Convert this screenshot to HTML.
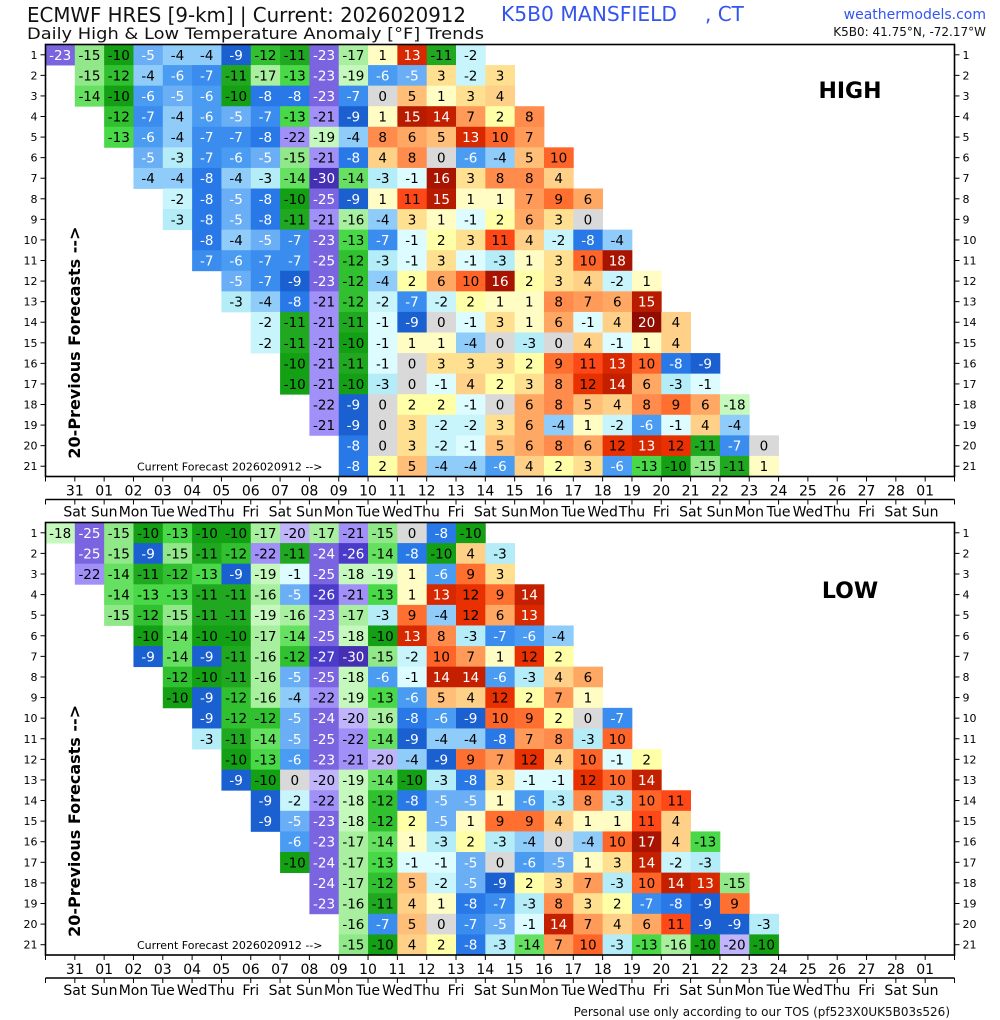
<!DOCTYPE html>
<html><head><meta charset="utf-8">
<style>
html,body{margin:0;padding:0;background:#fff;}
svg{display:block;font-family:"DejaVu Sans","Liberation Sans",sans-serif;}
</style></head>
<body>
<svg id="chart" width="1000" height="1020" viewBox="0 0 1000 1020" xmlns="http://www.w3.org/2000/svg">
<text x="27" y="22" font-size="20" fill="#111" textLength="439" lengthAdjust="spacingAndGlyphs">ECMWF HRES [9-km] | Current: 2026020912</text>
<text x="27" y="39" font-size="16" fill="#111" textLength="457" lengthAdjust="spacingAndGlyphs">Daily High &amp; Low Temperature Anomaly [°F] Trends</text>
<text x="501" y="21" font-size="20" fill="#3355ee" textLength="176" lengthAdjust="spacingAndGlyphs">K5B0 MANSFIELD</text>
<text x="705" y="21" font-size="20" fill="#3355ee">, CT</text>
<text x="986" y="19" font-size="14" fill="#3355ee" text-anchor="end">weathermodels.com</text>
<text x="986" y="36" font-size="12" fill="#111" text-anchor="end">K5B0: 41.75°N, -72.17°W</text>
<text x="950" y="1016" font-size="12" fill="#111" text-anchor="end">Personal use only according to our TOS (pf523X0UK5B03s526)</text>
<g id="panels"></g>
</svg>
<script>
const highStarts = [0,1,1,2,2,3,3,4,4,5,5,6,6,7,7,8,8,9,9,10,10];
const highValues = [
[-23,-15,-10,-5,-4,-4,-9,-12,-11,-23,-17,1,13,-11,-2],
[-15,-12,-4,-6,-7,-11,-17,-13,-23,-19,-6,-5,3,-2,3],
[-14,-10,-6,-5,-6,-10,-8,-8,-23,-7,0,5,1,3,4],
[-12,-7,-4,-6,-5,-7,-13,-21,-9,1,15,14,7,2,8],
[-13,-6,-4,-7,-7,-8,-22,-19,-4,8,6,5,13,10,7],
[-5,-3,-7,-6,-5,-15,-21,-8,4,8,0,-6,-4,5,10],
[-4,-4,-8,-4,-3,-14,-30,-14,-3,-1,16,3,8,8,4],
[-2,-8,-5,-8,-10,-25,-9,1,11,15,1,1,7,9,6],
[-3,-8,-5,-8,-11,-21,-16,-4,3,1,-1,2,6,3,0],
[-8,-4,-5,-7,-23,-13,-7,-1,2,3,11,4,-2,-8,-4],
[-7,-6,-7,-7,-25,-12,-3,-1,3,-1,-3,1,3,10,18],
[-5,-7,-9,-23,-12,-4,2,6,10,16,2,3,4,-2,1],
[-3,-4,-8,-21,-12,-2,-7,-2,2,1,1,8,7,6,15],
[-2,-11,-21,-11,-1,-9,0,-1,3,1,6,-1,4,20,4],
[-2,-11,-21,-10,-1,1,1,-4,0,-3,0,4,-1,1,4],
[-10,-21,-11,-1,0,3,3,3,2,9,11,13,10,-8,-9],
[-10,-21,-10,-3,0,-1,4,2,3,8,12,14,6,-3,-1],
[-22,-9,0,2,2,-1,0,6,8,5,4,8,9,6,-18],
[-21,-9,0,3,-2,-2,3,6,-4,1,-2,-6,-1,4,-4],
[-8,0,3,-2,-1,5,6,8,6,12,13,12,-11,-7,0],
[-8,2,5,-4,-4,-6,4,2,3,-6,-13,-10,-15,-11,1]
];
const lowStarts = [0,1,1,2,2,3,3,4,4,5,5,6,6,7,7,8,8,9,9,10,10];
const lowValues = [
[-18,-25,-15,-10,-13,-10,-10,-17,-20,-17,-21,-15,0,-8,-10],
[-25,-15,-9,-15,-11,-12,-22,-11,-24,-26,-14,-8,-10,4,-3],
[-22,-14,-11,-12,-13,-9,-19,-1,-25,-18,-19,1,-6,9,3],
[-14,-13,-13,-11,-11,-16,-5,-26,-21,-13,1,13,12,9,14],
[-15,-12,-15,-11,-11,-19,-16,-23,-17,-3,9,-4,12,6,13],
[-10,-14,-10,-10,-17,-14,-25,-18,-10,13,8,-3,-7,-6,-4],
[-9,-14,-9,-11,-16,-12,-27,-30,-15,-2,10,7,1,12,2],
[-12,-10,-11,-16,-5,-25,-18,-6,-1,14,14,-6,-3,4,6],
[-10,-9,-12,-16,-4,-22,-19,-13,-6,5,4,12,2,7,1],
[-9,-12,-12,-5,-24,-20,-16,-8,-6,-9,10,9,2,0,-7],
[-3,-11,-14,-5,-25,-22,-14,-9,-4,-4,-8,7,8,-3,10],
[-10,-13,-6,-23,-21,-20,-4,-9,9,7,12,4,10,-1,2],
[-9,-10,0,-20,-19,-14,-10,-3,-8,3,-1,-1,12,10,14],
[-9,-2,-22,-18,-12,-8,-5,-5,1,-6,-3,8,-3,10,11],
[-9,-5,-23,-18,-12,2,-5,1,9,9,4,1,1,11,4],
[-6,-23,-17,-14,1,-3,2,-3,-4,0,-4,10,17,4,-13],
[-10,-24,-17,-13,-1,-1,-5,0,-6,-5,1,3,14,-2,-3],
[-24,-17,-12,5,-2,-5,-9,2,3,7,-3,10,14,13,-15],
[-23,-16,-11,4,1,-8,-7,-3,8,3,2,-7,-8,-9,9],
[-16,-7,5,0,-7,-5,-1,14,7,4,6,11,-9,-9,-3],
[-15,-10,4,2,-8,-3,-14,7,10,-3,-13,-16,-10,-20,-10]
];
const dateLabels = ["31","01","02","03","04","05","06","07","08","09","10","11","12","13","14","15","16","17","18","19","20","21","22","23","24","25","26","27","28","01"];
const dayLabels = ["Sat","Sun","Mon","Tue","Wed","Thu","Fri","Sat","Sun","Mon","Tue","Wed","Thu","Fri","Sat","Sun","Mon","Tue","Wed","Thu","Fri","Sat","Sun","Mon","Tue","Wed","Thu","Fri","Sat","Sun"];

const NS = "http://www.w3.org/2000/svg";
const PX0 = 45.5, PX1 = 954.5, NCOL = 31, NROW = 21;
const colW = (PX1 - PX0) / NCOL;
function xScale(c){ return PX0 + c * colW; }

function colorFor(v){
  if (v <= -28) return "#4530b4";
  if (v <= -26) return "#4a3cc8";
  if (v <= -23) return "#7a64e0";
  if (v <= -21) return "#a090f8";
  if (v <= -20) return "#c0b4fa";
  if (v <= -18) return "#c4f8bc";
  if (v <= -16) return "#a8f0a0";
  const m = {"-15":"#90e888","-14":"#66e060","-13":"#48d848","-12":"#30c030","-11":"#20a820","-10":"#14a014",
  "-9":"#1a60d0","-8":"#2878e8","-7":"#3a8cee","-6":"#4a9cf2","-5":"#6aaef6","-4":"#90ccfa","-3":"#b4ecf8","-2":"#c8f4fc","-1":"#ddfcff",
  "0":"#d9d9d9","1":"#fffcc4","2":"#ffffa8","3":"#ffe090","4":"#ffd088","5":"#ffbf78","6":"#ffa864","7":"#ff9a58","8":"#ff8c4c",
  "9":"#ff7030","10":"#ff6428","11":"#ff4818","12":"#e83000","13":"#d82800","14":"#c42000","15":"#b81c00"};
  if (m[String(v)]) return m[String(v)];
  if (v >= 19) return "#900c00";
  return "#a81400";
}
function textColor(v){
  if (v <= -23) return "#fff";
  if (v >= -9 && v <= -5) return "#fff";
  if (v >= 13) return "#fff";
  return "#000";
}
function mk(tag, attrs, parent){
  const e = document.createElementNS(NS, tag);
  for (const k in attrs) e.setAttribute(k, attrs[k]);
  parent.appendChild(e);
  return e;
}

function drawPanel(top, bottom, starts, values, label, labelY, prefix){
  const root = document.getElementById("panels");
  const g = mk("g", {}, root);
  
  
  const rowH = (bottom - top) / NROW;
  const yScale = r => top + r * rowH;
  for (let r = 0; r < values.length; r++){
    for (let i = 0; i < values[r].length; i++){
      const v = values[r][i];
      const c = starts[r] + i;
      const cell = mk("rect", {x: xScale(c), y: yScale(r), width: colW + 0.4, height: rowH + 0.4, fill: colorFor(v)}, g);
      
      
      const t = mk("text", {x: xScale(c) + colW/2, y: yScale(r) + rowH/2 + 5, "font-size": 13.5, "text-anchor": "middle", fill: textColor(v)}, g);
      t.textContent = v;
      
      
    }
  }
  const frame = mk("rect", {x: PX0, y: top, width: PX1 - PX0, height: bottom - top, fill: "none", stroke: "#000", "stroke-width": 1.6}, g);
  
  
  for (let r = 0; r < NROW; r++){
    const yc = yScale(r) + rowH/2;
    mk("line", {x1: PX0 - 5, x2: PX0, y1: yc, y2: yc, stroke: "#000"}, g);
    mk("line", {x1: PX1, x2: PX1 + 5, y1: yc, y2: yc, stroke: "#000"}, g);
    const l = mk("text", {x: PX0 - 8, y: yc + 4, "font-size": 11, "text-anchor": "end"}, g);
    l.textContent = r + 1;
    
    
    const rr = mk("text", {x: PX1 + 8, y: yc + 4, "font-size": 11}, g);
    rr.textContent = r + 1;
    
    
  }
  for (let k = 0; k <= NCOL; k++){
    const x = xScale(k);
    mk("line", {x1: x, x2: x, y1: bottom, y2: bottom + 5, stroke: "#000"}, g);
    mk("line", {x1: x, x2: x, y1: bottom + 23, y2: bottom + 28, stroke: "#000"}, g);
  }
  mk("line", {x1: PX0, x2: PX1, y1: bottom + 23, y2: bottom + 23, stroke: "#000", "stroke-width": 1.5}, g);
  for (let k = 0; k < dateLabels.length; k++){
    const x = xScale(k + 1);
    const d = mk("text", {x: x, y: bottom + 19, "font-size": 14, "text-anchor": "middle"}, g);
    d.textContent = dateLabels[k];
    
    
    const w = mk("text", {x: x, y: bottom + 40, "font-size": 14, "text-anchor": "middle"}, g);
    w.textContent = dayLabels[k];
    
    
  }
  const pl = mk("text", {x: 850, y: labelY, "font-size": 22, "font-weight": "bold", "text-anchor": "middle"}, g);
  pl.textContent = label;
  
  
  const yc = top + (bottom - top) * 0.69;
  const yt = mk("text", {x: 0, y: 0, "font-size": 16, "font-weight": "bold", "text-anchor": "middle", transform: "translate(80," + yc + ") rotate(-90)"}, g);
  yt.textContent = "20-Previous Forecasts -->";
  
  
  const cf = mk("text", {x: 137, y: bottom - 6, "font-size": 11}, g);
  cf.textContent = "Current Forecast 2026020912 -->";
  
  
}
drawPanel(44.5, 476.5, highStarts, highValues, "HIGH", 98, "high");
drawPanel(522.5, 955, lowStarts, lowValues, "LOW", 598, "low");
</script>
</body></html>
